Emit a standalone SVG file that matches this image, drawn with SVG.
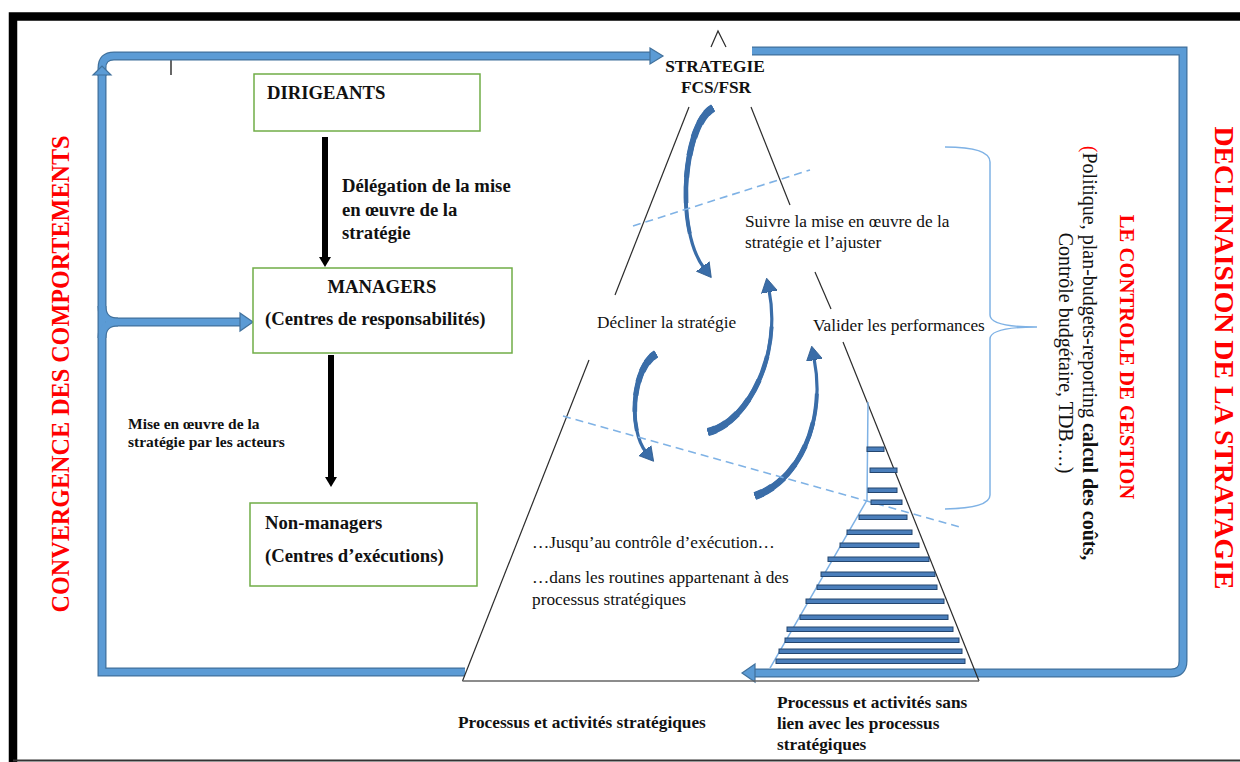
<svg xmlns="http://www.w3.org/2000/svg" xmlns:xlink="http://www.w3.org/1999/xlink" width="1240" height="762" viewBox="0 0 1240 762">
<defs>
<style>
 text{font-family:"Liberation Serif","Times New Roman",serif;fill:#111;}
 .b{font-weight:bold;}
 .t14{font-size:18.7px;}
 .t13{font-size:17.3px;}
 .box{fill:#fff;stroke:#70AD47;stroke-width:1.5;}
 .pipe-o{fill:none;stroke:#41719C;stroke-width:9;stroke-linejoin:miter;}
 .pipe-i{fill:none;stroke:#5B9BD5;stroke-width:6.5;stroke-linejoin:miter;}
 .head{fill:#5B9BD5;stroke:#41719C;stroke-width:1.2;}
 .edge{stroke:#2b2b2b;stroke-width:1.2;fill:none;}
 .dash{stroke:#7FB2E5;stroke-width:1.6;stroke-dasharray:8 5;fill:none;}
 .lb{stroke:#7FB2E5;stroke-width:1.5;fill:none;}
 .bar{fill:#4A7EBB;stroke:#24466F;stroke-width:1;}
 .cv{fill:none;stroke:#3A6DA8;stroke-linecap:butt;}
 .w1{stroke-width:3.2;}
 .w2{stroke-width:3.9;stroke-dasharray:78 300;}
 .w3{stroke-width:4.6;stroke-dasharray:60 300;}
 .w4{stroke-width:5.3;stroke-dasharray:45 300;}
 .w5{stroke-width:6;stroke-dasharray:32 300;}
 .w6{stroke-width:6.7;stroke-dasharray:21 300;}
 .w7{stroke-width:7.4;stroke-dasharray:12 300;}
 .w8{stroke-width:8.1;stroke-dasharray:5 300;}
 .red{fill:#FF0000;}
 .blk{stroke:#000;stroke-width:6;fill:none;}
</style>
<marker id="ch" markerUnits="userSpaceOnUse" markerWidth="18" markerHeight="18" refX="2" refY="9" orient="auto">
 <path d="M0,1 L14,9 L0,17 Z" fill="#3A6DA8" stroke="#2C5A8E" stroke-width="0.8"/>
</marker>
<marker id="bk" markerUnits="userSpaceOnUse" markerWidth="14" markerHeight="14" refX="1" refY="7" orient="auto">
 <path d="M0,1 L10,7 L0,13 Z" fill="#000"/>
</marker>
<!-- centre lines of the four cycle arrows, tail first -->
<path id="c1" pathLength="100" d="M713,108 C683,125 675,230 704,268"/>
<path id="c2" pathLength="100" d="M708,432 C748,422 782,355 769,290"/>
<path id="c3" pathLength="100" d="M656,354 C632,368 628,430 646,452"/>
<path id="c4" pathLength="100" d="M755,496 C800,480 826,420 814,358"/>
</defs>

<rect width="1240" height="762" fill="#fff"/>

<!-- page frame -->
<g id="frame">
 <path d="M13,762 L13,16.5 L1240,16.5" stroke="#000" stroke-width="8.5" fill="none" stroke-linejoin="miter"/>
 <line x1="13" y1="760.5" x2="1240" y2="760.5" stroke="#333" stroke-width="2"/>
 <line x1="171" y1="52" x2="171" y2="75" stroke="#000" stroke-width="1.2"/>
</g>

<!-- feedback loops (blue pipes) -->
<g id="connectors">
 <g class="pipe-o">
  <path d="M465,672 L102,672 L102,74"/>
  <path d="M102,76 L102,68 Q102,56 114,56 L651,56"/>
  <path d="M102,306 Q102,322 118,322 L241,322"/>
  <path d="M102,338 Q102,322 118,322"/>
  <path d="M752,51 L1183,51 L1183,661 Q1183,673 1171,673 L755,673"/>
 </g>
 <g class="pipe-i">
  <path d="M465,672 L102,672 L102,74"/>
  <path d="M102,76 L102,68 Q102,56 114,56 L651,56"/>
  <path d="M102,306 Q102,322 118,322 L241,322"/>
  <path d="M102,338 Q102,322 118,322"/>
  <path d="M752,51 L1183,51 L1183,661 Q1183,673 1171,673 L755,673"/>
 </g>
 <polygon class="head" points="650,48 663,56 650,64"/>
 <polygon class="head" points="240,313 253,322 240,331"/>
 <polygon class="head" points="755,664 742,673 755,682"/>
 <polygon class="head" points="93,75 102,66 111,75"/>

 <!-- hierarchy arrows -->
 <line class="blk" x1="325" y1="137" x2="325" y2="258" marker-end="url(#bk)"/>
 <line class="blk" x1="331" y1="355" x2="331" y2="478" marker-end="url(#bk)"/>

 <!-- curved cycle arrows, tapering from tail to head -->
 <g id="cycle" class="cv">
  <use xlink:href="#c1" class="w1" marker-end="url(#ch)"/>
  <use xlink:href="#c1" class="w2"/><use xlink:href="#c1" class="w3"/><use xlink:href="#c1" class="w4"/>
  <use xlink:href="#c1" class="w5"/><use xlink:href="#c1" class="w6"/><use xlink:href="#c1" class="w7"/><use xlink:href="#c1" class="w8"/>

  <use xlink:href="#c2" class="w1" marker-end="url(#ch)"/>
  <use xlink:href="#c2" class="w2"/><use xlink:href="#c2" class="w3"/><use xlink:href="#c2" class="w4"/>
  <use xlink:href="#c2" class="w5"/><use xlink:href="#c2" class="w6"/><use xlink:href="#c2" class="w7"/><use xlink:href="#c2" class="w8"/>

  <use xlink:href="#c3" class="w1" marker-end="url(#ch)"/>
  <use xlink:href="#c3" class="w2"/><use xlink:href="#c3" class="w3"/><use xlink:href="#c3" class="w4"/>
  <use xlink:href="#c3" class="w5"/><use xlink:href="#c3" class="w6"/><use xlink:href="#c3" class="w7"/><use xlink:href="#c3" class="w8"/>

  <use xlink:href="#c4" class="w1" marker-end="url(#ch)"/>
  <use xlink:href="#c4" class="w2"/><use xlink:href="#c4" class="w3"/><use xlink:href="#c4" class="w4"/>
  <use xlink:href="#c4" class="w5"/><use xlink:href="#c4" class="w6"/><use xlink:href="#c4" class="w7"/><use xlink:href="#c4" class="w8"/>
 </g>
</g>

<!-- organisation levels -->
<g id="dirigeants">
 <rect class="box" x="254" y="74" width="226" height="57"/>
 <text class="b t14" x="267" y="99">DIRIGEANTS</text>
</g>
<g id="delegation">
 <text class="b t14" x="342" y="192">Délégation de la mise</text>
 <text class="b t14" x="342" y="216">en œuvre de la</text>
 <text class="b t14" x="342" y="239">stratégie</text>
</g>
<g id="managers">
 <rect class="box" x="253" y="268" width="259" height="85"/>
 <text class="b t14" x="382" y="293" text-anchor="middle">MANAGERS</text>
 <text class="b t14" x="265" y="325">(Centres de responsabilités)</text>
</g>
<g id="mise-en-oeuvre">
 <text class="b" font-size="15.5" x="128" y="429">Mise en œuvre de la</text>
 <text class="b" font-size="15.5" x="128" y="447">stratégie par les acteurs</text>
</g>
<g id="non-managers">
 <rect class="box" x="250" y="503" width="227" height="83"/>
 <text class="b t14" x="265" y="529">Non-managers</text>
 <text class="b t14" x="265" y="562">(Centres d’exécutions)</text>
</g>

<!-- strategy pyramid -->
<g id="strategie">
 <path class="edge" d="M711,47 L718,31 L726,47"/>
 <text class="b t13" x="715" y="72" text-anchor="middle">STRATEGIE</text>
 <text class="b t13" x="716" y="93" text-anchor="middle">FCS/FSR</text>
</g>
<g id="pyramid">
 <line class="edge" x1="689" y1="107" x2="615" y2="295"/>
 <line class="edge" x1="589" y1="360" x2="462.5" y2="681"/>
 <line class="edge" x1="751" y1="107" x2="790" y2="205"/>
 <line class="edge" x1="815" y1="272" x2="831" y2="309"/>
 <line class="edge" x1="843" y1="342" x2="979" y2="681"/>
 <line x1="462.5" y1="681" x2="979" y2="681" stroke="#666" stroke-width="1.6"/>
 <line class="dash" x1="633" y1="226" x2="810" y2="170"/>
 <line class="dash" x1="563" y1="416" x2="960" y2="527"/>
 <text class="t13" x="745" y="227">Suivre la mise en œuvre de la</text>
 <text class="t13" x="745" y="248">stratégie et l’ajuster</text>
 <text class="t13" x="597" y="328">Décliner la stratégie</text>
 <text class="t13" x="813" y="331">Valider les performances</text>
 <text class="t13" x="532" y="548">…Jusqu’au contrôle d’exécution…</text>
 <text class="t13" x="532" y="583">…dans les routines appartenant à des</text>
 <text class="t13" x="532" y="605">processus stratégiques</text>
</g>

<!-- non-strategic activities -->
<g id="routines">
 <path class="lb" d="M868,402 L867,500 L770,668"/>
 <rect class="bar" x="867" y="447" width="17" height="4.5"/>
 <rect class="bar" x="870" y="468" width="27" height="4.5"/>
 <rect class="bar" x="868" y="488" width="29" height="4.5"/>
 <rect class="bar" x="871" y="500" width="31" height="4.5"/>
 <rect class="bar" x="859" y="515" width="48" height="4.5"/>
 <rect class="bar" x="847" y="530" width="65" height="4.5"/>
 <rect class="bar" x="840" y="543" width="79" height="4.5"/>
 <rect class="bar" x="828" y="557" width="101" height="4.5"/>
 <rect class="bar" x="821" y="572" width="114" height="4.5"/>
 <rect class="bar" x="817" y="585" width="120" height="4.5"/>
 <rect class="bar" x="806" y="599" width="138" height="4.5"/>
 <rect class="bar" x="800" y="615" width="148" height="4.5"/>
 <rect class="bar" x="787" y="627" width="166" height="4.5"/>
 <rect class="bar" x="785" y="638" width="174" height="4.5"/>
 <rect class="bar" x="779" y="649" width="183" height="4.5"/>
 <rect class="bar" x="776" y="659" width="189" height="4.5"/>
</g>

<!-- brace grouping the management-control stages -->
<path id="brace" class="lb" d="M945,147 Q990,147 990,162 L990,315 Q990,327 1037,327 Q990,327 990,339 L990,495 Q990,508 945,509"/>

<g id="bottom-labels">
 <text class="b t13" x="458" y="728">Processus et activités stratégiques</text>
 <text class="b t13" x="777" y="708">Processus et activités sans</text>
 <text class="b t13" x="777" y="729">lien avec les processus</text>
 <text class="b t13" x="777" y="750">stratégiques</text>
</g>

<!-- vertical titles -->
<g id="titles">
 <text class="b red" font-size="25" transform="translate(69,374) rotate(-90)" text-anchor="middle" textLength="477" lengthAdjust="spacingAndGlyphs">CONVERGENCE DES COMPORTEMENTS</text>
 <text class="b red" font-size="27.8" transform="translate(1215,358) rotate(90)" text-anchor="middle">DECLINAISION DE LA STRATAGIE</text>
 <text class="b red" font-size="20.7" transform="translate(1120,357) rotate(90)" text-anchor="middle">LE CONTROLE DE GESTION</text>
 <text font-size="20" transform="translate(1083,353) rotate(90)" text-anchor="middle"><tspan class="red">(</tspan>Politique, plan-budgets-reporting <tspan class="b">calcul des coûts,</tspan></text>
 <text font-size="20" transform="translate(1059,353) rotate(90)" text-anchor="middle">Contrôle budgétaire, TDB….)</text>
</g>
</svg>
